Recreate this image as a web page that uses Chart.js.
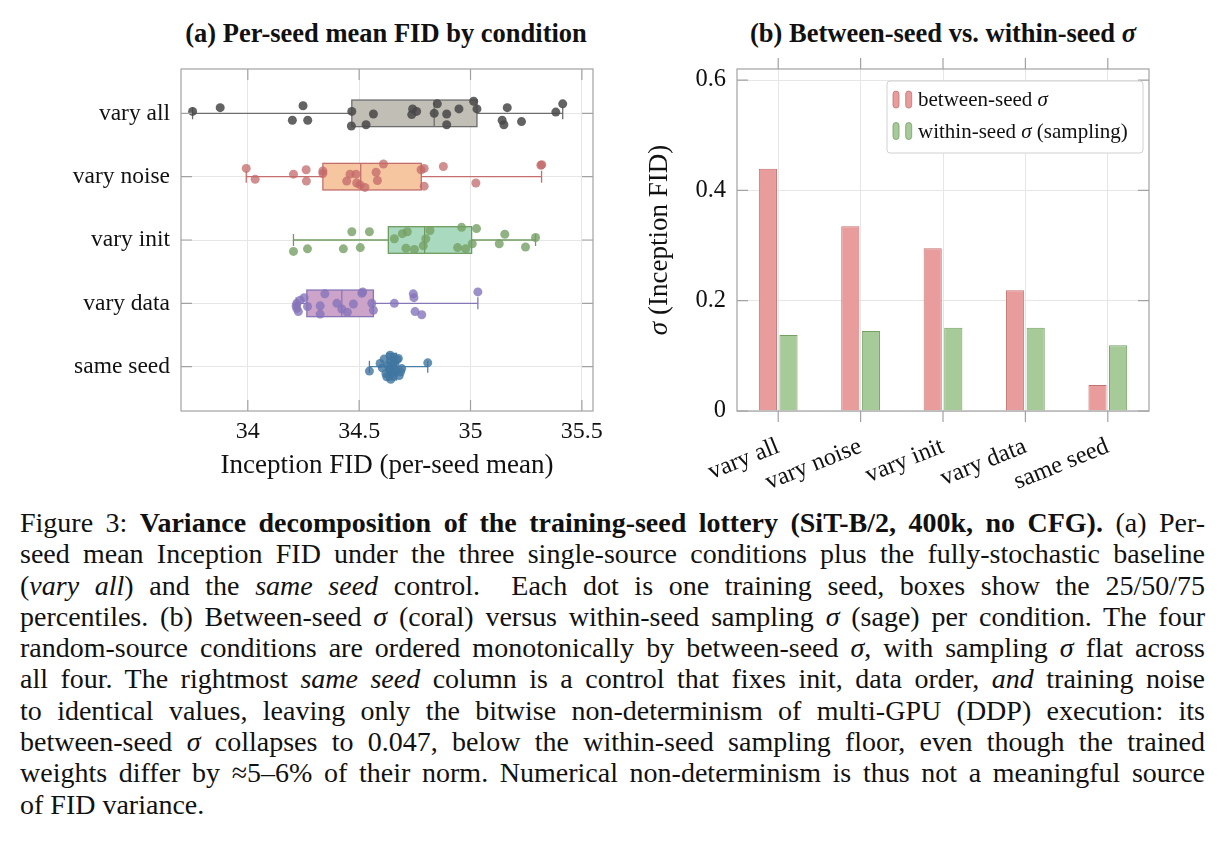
<!DOCTYPE html>
<html>
<head>
<meta charset="utf-8">
<script src="https://cdn.jsdelivr.net/npm/chart.js@4.4.1/dist/chart.umd.min.js"></script>
<style>
  body { margin: 0; background: #fff; width: 1225px; height: 854px; position: relative; overflow: hidden;
         font-family: "Liberation Serif", "Times New Roman", serif; color: #111; }
  .ptitle { position: absolute; top: 18px; font-weight: bold; font-size: 26.5px; line-height: 30px;
            white-space: nowrap; transform: translateX(-50%); }
  #chartA { position: absolute; left: 0; top: 0; }
  #chartB { position: absolute; left: 620px; top: 0; }
  #caption { position: absolute; left: 20px; top: 507px; width: 1185px; font-size: 28px; line-height: 31.3px; }
  #caption .ln { height: 31.3px; white-space: nowrap; }
  #caption .ln span { white-space: nowrap; }
</style>
</head>
<body>
<div class="ptitle" style="left:386px">(a) Per-seed mean FID by condition</div>
<div class="ptitle" style="left:943px">(b) Between-seed vs. within-seed <i>σ</i></div>
<canvas id="chartA" width="610" height="482"></canvas>
<canvas id="chartB" width="545" height="500"></canvas>

<div id="caption">
  <div class="ln"><span>Figure 3: <b>Variance decomposition of the training-seed lottery (SiT-B/2, 400k, no CFG).</b> (a) Per-</span></div>
  <div class="ln"><span>seed mean Inception FID under the three single-source conditions plus the fully-stochastic baseline</span></div>
  <div class="ln"><span>(<i>vary all</i>) and the <i>same seed</i> control.&nbsp; Each dot is one training seed, boxes show the 25/50/75</span></div>
  <div class="ln"><span>percentiles. (b) Between-seed <i>σ</i> (coral) versus within-seed sampling <i>σ</i> (sage) per condition. The four</span></div>
  <div class="ln"><span>random-source conditions are ordered monotonically by between-seed <i>σ</i>, with sampling <i>σ</i> flat across</span></div>
  <div class="ln"><span>all four. The rightmost <i>same seed</i> column is a control that fixes init, data order, <i>and</i> training noise</span></div>
  <div class="ln"><span>to identical values, leaving only the bitwise non-determinism of multi-GPU (DDP) execution: its</span></div>
  <div class="ln"><span>between-seed <i>σ</i> collapses to 0.047, below the within-seed sampling floor, even though the trained</span></div>
  <div class="ln"><span>weights differ by ≈5–6% of their norm. Numerical non-determinism is thus not a meaningful source</span></div>
  <div class="ln last"><span>of FID variance.</span></div>
</div>

<script>
// ---- panel (a): per-seed mean FID ----
const conditions = ['vary all', 'vary noise', 'vary init', 'vary data', 'same seed'];
const xTicksA = [34, 34.5, 35, 35.5];

// box statistics per condition (same order as conditions)
const whiskerLo = [33.752, 33.993, 34.205, 34.217, 34.546];
const q1 = [34.467, 34.337, 34.631, 34.265, 34.625];
const median = [34.837, 34.507, 34.794, 34.422, 34.645];
const q3 = [35.029, 34.779, 35.005, 34.564, 34.668];
const whiskerHi = [35.414, 35.319, 35.292, 35.033, 34.808];

// per-seed means and their vertical jitter (in row units)
const varyAllFid = [33.752, 33.876, 34.248, 34.200, 34.269, 34.467, 34.465, 34.531, 34.564, 34.740, 34.758, 34.736, 34.851,
  34.837, 34.893, 34.893, 34.948, 35.014, 35.029, 35.165, 35.142, 35.150, 35.229, 35.383, 35.414];
const varyAllJitter = [-0.03, -0.09, -0.12, 0.11, 0.11, -0.03, 0.20, 0.18, 0.01, -0.07, -0.03, 0.02, -0.15,
  0.00, 0.01, 0.18, -0.07, -0.19, -0.07, -0.09, 0.11, 0.18, 0.13, -0.02, -0.15];

const varyNoiseFid = [33.993, 34.033, 34.205, 34.262, 34.263, 34.337, 34.337, 34.444, 34.459, 34.486, 34.489, 34.504,
  34.526, 34.576, 34.582, 34.609, 34.792, 34.778, 34.792, 34.878, 35.024, 35.316, 35.320];
const varyNoiseJitter = [-0.13, 0.04, -0.04, -0.11, 0.07, -0.09, -0.05, 0.07, -0.04, -0.04, 0.10, 0.13,
  0.17, -0.07, 0.06, -0.20, -0.13, -0.11, 0.15, -0.16, 0.10, -0.18, -0.19];

const varyInitFid = [34.205, 34.268, 34.467, 34.546, 34.429, 34.505, 34.658, 34.694, 34.716, 34.710, 34.748, 34.788,
  34.799, 34.818, 34.960, 35.027, 34.942, 34.978, 35.008, 35.154, 35.129, 35.247, 35.292];
const varyInitJitter = [0.18, 0.14, -0.13, -0.13, 0.14, 0.12, -0.02, -0.10, -0.13, 0.13, 0.15, 0.09,
  -0.02, -0.15, -0.20, -0.18, 0.12, 0.14, 0.06, -0.09, 0.06, 0.11, -0.04];

const varyDataFid = [34.220, 34.227, 34.253, 34.268, 34.220, 34.217, 34.235, 34.346, 34.325, 34.325, 34.400, 34.422,
  34.447, 34.474, 34.512, 34.516, 34.557, 34.564, 34.658, 34.743, 34.746, 34.751, 34.781, 35.033];
const varyDataJitter = [0.00, 0.13, -0.09, 0.05, 0.08, 0.04, -0.05, -0.15, 0.04, 0.17, 0.00, 0.09,
  0.14, 0.01, -0.16, -0.18, 0.00, 0.11, 0.00, -0.15, -0.09, 0.13, 0.18, -0.18];

const sameSeedFid = [34.546, 34.808, 34.594, 34.604, 34.612, 34.620, 34.624, 34.630, 34.636, 34.639, 34.642, 34.645,
  34.648, 34.650, 34.652, 34.655, 34.660, 34.664, 34.670, 34.676, 34.680, 34.686, 34.691];
const sameSeedJitter = [0.07, -0.06, -0.05, 0.02, -0.12, 0.11, 0.16, -0.02, 0.05, -0.18, 0.20, -0.08,
  0.09, 0.00, -0.14, 0.13, -0.04, 0.06, -0.11, -0.13, 0.14, 0.08, 0.03];

// ---- panel (b): between- vs within-seed sigma ----
const barCategories = ['vary all', 'vary noise', 'vary init', 'vary data', 'same seed'];
const betweenSigma = [0.439, 0.335, 0.295, 0.219, 0.047];
const withinSigma = [0.138, 0.145, 0.151, 0.151, 0.119];
const yTicksB = [0, 0.2, 0.4, 0.6];

const POINT_COLORS = ['rgba(72,72,72,0.85)', 'rgba(194,104,104,0.74)', 'rgba(118,160,100,0.8)',
  'rgba(134,116,186,0.8)', 'rgba(64,118,160,0.8)'];
const BOX_FILL = ['#c1beb6', '#f6c6a0', '#a9d9bf', '#cca3c9', '#9fbcd0'];
const LINE_COLORS = ['#6e6e6e', '#c46e6e', '#6f9c5f', '#8677b8', '#4a7fa5'];
const AXIS_COLOR = '#a2a2a2';
const GRID_COLOR = '#e6e6e6';
const SERIF = '"Liberation Serif", "Times New Roman", serif';

const fidSeries = [varyAllFid, varyNoiseFid, varyInitFid, varyDataFid, sameSeedFid];
const jitterSeries = [varyAllJitter, varyNoiseJitter, varyInitJitter, varyDataJitter, sameSeedJitter];

// draws text made of parts, setting any σ in italic; returns nothing, text is centred on x
function drawMixedText(ctx, text, x, y, size) {
  const parts = text.split(/(σ)/).filter(Boolean);
  const fontFor = (p) => (p === 'σ' ? `italic ${size}px ${SERIF}` : `${size}px ${SERIF}`);
  let total = 0;
  parts.forEach((p) => { ctx.font = fontFor(p); total += ctx.measureText(p).width; });
  let tx = x - total / 2;
  parts.forEach((p) => {
    ctx.font = fontFor(p);
    ctx.fillText(p, tx, y);
    tx += ctx.measureText(p).width;
  });
}

// frame around the plot + pgfplots-like tick marks
function makeFramePlugin(xInward) {
  return {
    id: 'frame',
    afterDatasetsDraw(chart) {
      const { ctx, chartArea: a, scales: { x, y } } = chart;
      const L = 11;
      ctx.save();
      ctx.strokeStyle = AXIS_COLOR;
      ctx.lineWidth = 1.2;
      ctx.strokeRect(a.left, a.top, a.right - a.left, a.bottom - a.top);
      ctx.beginPath();
      x.ticks.forEach((t, i) => {
        const px = x.getPixelForTick(i);
        if (xInward) {
          ctx.moveTo(px, a.top); ctx.lineTo(px, a.top + L);
          ctx.moveTo(px, a.bottom); ctx.lineTo(px, a.bottom - L);
        } else {
          ctx.moveTo(px, a.top); ctx.lineTo(px, a.top - L);
          ctx.moveTo(px, a.bottom); ctx.lineTo(px, a.bottom + L);
        }
      });
      y.ticks.forEach((t, i) => {
        const py = y.getPixelForTick(i);
        ctx.moveTo(a.left, py); ctx.lineTo(a.left + L, py);
        ctx.moveTo(a.right, py); ctx.lineTo(a.right - L, py);
      });
      ctx.stroke();
      ctx.restore();
    }
  };
}

// boxes and whiskers, drawn under the seed dots
const boxPlugin = {
  id: 'boxes',
  beforeDatasetsDraw(chart) {
    const { ctx, scales: { x, y } } = chart;
    const halfBox = 0.21;
    const capHalf = 6;
    ctx.save();
    ctx.lineWidth = 1.3;
    conditions.forEach((c, i) => {
      const yc = y.getPixelForValue(i);
      const yTop = y.getPixelForValue(i - halfBox);
      const yBot = y.getPixelForValue(i + halfBox);
      const xlo = x.getPixelForValue(whiskerLo[i]);
      const xq1 = x.getPixelForValue(q1[i]);
      const xmed = x.getPixelForValue(median[i]);
      const xq3 = x.getPixelForValue(q3[i]);
      const xhi = x.getPixelForValue(whiskerHi[i]);
      ctx.strokeStyle = LINE_COLORS[i];
      ctx.beginPath();
      ctx.moveTo(xlo, yc); ctx.lineTo(xq1, yc);
      ctx.moveTo(xq3, yc); ctx.lineTo(xhi, yc);
      ctx.moveTo(xlo, yc - capHalf); ctx.lineTo(xlo, yc + capHalf);
      ctx.moveTo(xhi, yc - capHalf); ctx.lineTo(xhi, yc + capHalf);
      ctx.stroke();
      ctx.fillStyle = BOX_FILL[i];
      ctx.fillRect(xq1, yTop, xq3 - xq1, yBot - yTop);
      ctx.strokeRect(xq1, yTop, xq3 - xq1, yBot - yTop);
      ctx.beginPath();
      ctx.moveTo(xmed, yTop); ctx.lineTo(xmed, yBot);
      ctx.stroke();
    });
    ctx.restore();
  }
};

new Chart(document.getElementById('chartA'), {
  type: 'scatter',
  data: {
    datasets: conditions.map((c, i) => ({
      label: c,
      data: fidSeries[i].map((v, k) => ({ x: v, y: i + jitterSeries[i][k] })),
      backgroundColor: POINT_COLORS[i],
      borderWidth: 0,
      pointRadius: 4.5
    }))
  },
  options: {
    responsive: false,
    animation: false,
    layout: { padding: { top: 69, right: 17, left: 0, bottom: 0 } },
    plugins: { legend: { display: false }, tooltip: { enabled: false } },
    scales: {
      x: {
        type: 'linear',
        min: 33.70,
        max: 35.55,
        afterBuildTicks: (s) => { s.ticks = xTicksA.map((v) => ({ value: v })); },
        afterFit: (s) => { s.height = 71; },
        grid: { color: GRID_COLOR, drawTicks: false },
        border: { display: false },
        ticks: { color: '#111', font: { family: SERIF, size: 24 }, padding: 6, autoSkip: false, maxRotation: 0,
          callback: (v) => String(v) },
        title: { display: true, text: 'Inception FID (per-seed mean)', color: '#111',
          font: { family: SERIF, size: 27 }, padding: { top: 0, bottom: 0 } }
      },
      y: {
        type: 'linear',
        min: -0.7,
        max: 4.7,
        reverse: true,
        afterBuildTicks: (s) => { s.ticks = conditions.map((c, i) => ({ value: i })); },
        afterFit: (s) => { s.width = 181; },
        grid: { color: GRID_COLOR, drawTicks: false },
        border: { display: false },
        ticks: { color: '#111', font: { family: SERIF, size: 23.5 }, padding: 11, autoSkip: false,
          callback: (v) => conditions[v] }
      }
    }
  },
  plugins: [boxPlugin, makeFramePlugin(true)]
});

// legend box inside panel (b) and the rotated y title, both with an italic σ
const legendPlugin = {
  id: 'insideLegend',
  afterDatasetsDraw(chart) {
    const { ctx, chartArea: a, scales: { y } } = chart;
    const w = 256, h = 72;
    const left = a.right - 6 - w, top = a.top + 12;
    ctx.save();
    ctx.fillStyle = '#fff';
    ctx.strokeStyle = '#d0d0d0';
    ctx.lineWidth = 1;
    ctx.beginPath();
    ctx.roundRect(left, top, w, h, 3);
    ctx.fill();
    ctx.stroke();
    chart.data.datasets.forEach((ds, i) => {
      const cy = top + 18.6 + i * 31.4;
      [0, 12.7].forEach((dx) => {
        ctx.beginPath();
        ctx.roundRect(left + 6 + dx, cy - 8.5, 6, 17, 3);
        ctx.fillStyle = ds.backgroundColor;
        ctx.fill();
        ctx.strokeStyle = ds.borderColor;
        ctx.lineWidth = 0.8;
        ctx.stroke();
      });
      ctx.fillStyle = '#111';
      ctx.textBaseline = 'middle';
      let tx = left + 31;
      ds.label.split(/(σ)/).forEach((part) => {
        if (!part) return;
        ctx.font = part === 'σ' ? `italic 21px ${SERIF}` : `21px ${SERIF}`;
        ctx.fillText(part, tx, cy + 1);
        tx += ctx.measureText(part).width;
      });
    });
    // y axis title
    ctx.translate(y.left + 40, (a.top + a.bottom) / 2);
    ctx.rotate(-Math.PI / 2);
    ctx.fillStyle = '#111';
    ctx.textBaseline = 'middle';
    drawMixedText(ctx, 'σ (Inception FID)', 0, 0, 27);
    ctx.restore();
  }
};

new Chart(document.getElementById('chartB'), {
  type: 'bar',
  data: {
    labels: barCategories,
    datasets: [
      { label: 'between-seed σ', data: betweenSigma, backgroundColor: '#e89c9c', borderColor: '#c47272', borderWidth: 1 },
      { label: 'within-seed σ (sampling)', data: withinSigma, backgroundColor: '#a6ca98', borderColor: '#74a064', borderWidth: 1 }
    ]
  },
  options: {
    responsive: false,
    animation: false,
    layout: { padding: { top: 69, right: 16, left: 0, bottom: 0 } },
    datasets: { bar: { categoryPercentage: 0.5, barPercentage: 0.88 } },
    plugins: { legend: { display: false }, tooltip: { enabled: false } },
    scales: {
      x: {
        type: 'category',
        offset: true,
        afterFit: (s) => { s.height = 89; },
        grid: { color: GRID_COLOR, drawTicks: false, offset: false },
        border: { display: false },
        ticks: { color: '#111', font: { family: SERIF, size: 24.5 }, padding: 21, autoSkip: false,
          minRotation: 22, maxRotation: 22 }
      },
      y: {
        type: 'linear',
        min: 0,
        max: 0.62,
        afterBuildTicks: (s) => { s.ticks = yTicksB.map((v) => ({ value: v })); },
        afterFit: (s) => { s.width = 117; },
        grid: { color: GRID_COLOR, drawTicks: false },
        border: { display: false },
        ticks: { color: '#111', font: { family: SERIF, size: 24.5 }, padding: 11, autoSkip: false,
          callback: (v) => String(v) }
      }
    }
  },
  plugins: [makeFramePlugin(false), legendPlugin]
});

// justify caption lines to the full column width, like the typeset original
const CAPTION_WIDTH = 1185;
document.querySelectorAll('#caption .ln:not(.last) span').forEach((span) => {
  const spaces = (span.textContent.match(/[ \u00a0]/g) || []).length;
  const extra = CAPTION_WIDTH - span.getBoundingClientRect().width;
  if (spaces > 0) span.style.wordSpacing = `${extra / spaces}px`;
});
</script>
</body>
</html>
